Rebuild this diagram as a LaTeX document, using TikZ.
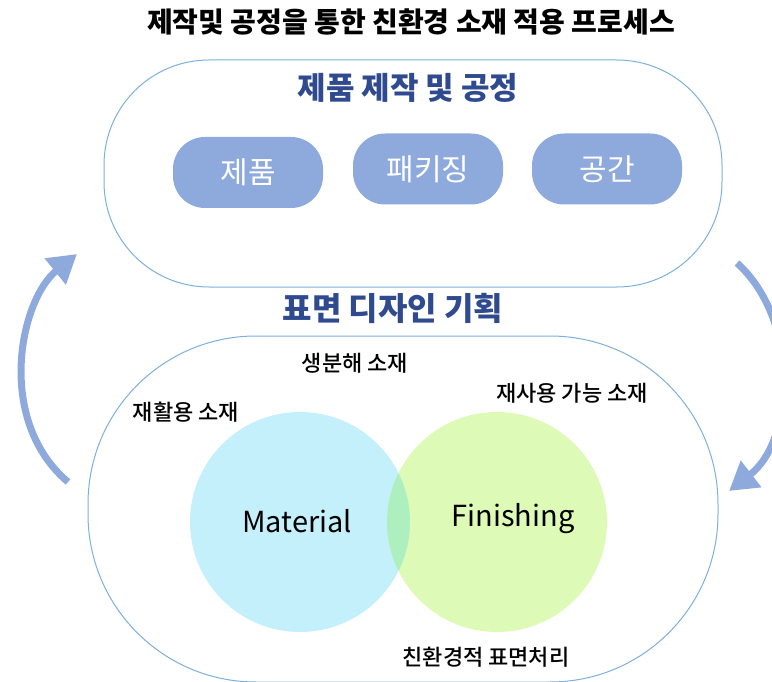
\documentclass[tikz,border=0pt]{standalone}
\usepackage{fontspec}
\setmainfont{Noto Sans CJK KR}
\newfontfamily\medfont{Noto Sans CJK KR Medium}
\usetikzlibrary{arrows.meta}
\definecolor{boxline}{HTML}{7DB0DC}
\definecolor{darkblue}{HTML}{2F4A8E}
\definecolor{pill}{HTML}{8EAADC}
\definecolor{cyanfill}{HTML}{C3F0FB}
\definecolor{greenfill}{HTML}{DDFAB6}
\definecolor{overlapfill}{HTML}{AEEFC0}
\tikzset{
  outerbox/.style={draw=boxline, line width=1pt, fill=none},
  pillbox/.style={fill=pill, rounded corners=32pt, minimum width=150pt, minimum height=71pt, text=white, font=\fontsize{30}{32}\selectfont},
  heading/.style={text=darkblue, font=\bfseries\fontsize{31}{33}\selectfont},
  lbl/.style={text=black, font=\medfont\fontsize{22}{24}\selectfont},
  bigarrow/.style={draw=pill, line width=7pt, -{Triangle[width=32pt,length=28pt]}},
  vennlbl/.style={text=black, font=\fontsize{29}{31}\selectfont}
}
\begin{document}
\begin{tikzpicture}[x=1pt,y=-1pt]
\useasboundingbox (0,0) rectangle (772,682);
% title
\node[font=\bfseries\fontsize{28}{30}\selectfont] (title) at (411,22) {제작및 공정을 통한 친환경 소재 적용 프로세스};
% top box
\node[outerbox, rounded corners=105pt, minimum width=618pt, minimum height=227pt] (top) at (413,173.5) {};
\node[heading] (toph) at (408,88) {제품 제작 및 공정};
\node[pillbox] (p1) at (248,172.5) {제품};
\node[pillbox] (p2) at (428,169) {패키징};
\node[pillbox] (p3) at (607,169) {공간};
% bottom
\node[heading, font=\bfseries\fontsize{32}{34}\selectfont] (both) at (393,308) {표면 디자인 기획};
\node[outerbox, rounded corners=168pt, minimum width=630pt, minimum height=346pt] (bot) at (403,509) {};
% venn
\node[circle, fill=cyanfill, minimum size=220pt, inner sep=0pt] (mat) at (300,522) {};
\node[circle, fill=greenfill, minimum size=220pt, inner sep=0pt] (fin) at (497,522) {};
\begin{scope}
  \clip (300,522) circle (110);
  \fill[overlapfill] (497,522) circle (110);
\end{scope}
\node[vennlbl] (matl) at (297,521) {Material};
\node[vennlbl] (finl) at (513,519) {Finishing};
% labels
\node[lbl] (l1) at (355,363) {생분해 소재};
\node[lbl] (l2) at (186,412) {재활용 소재};
\node[lbl] (l3) at (572,393) {재사용 가능 소재};
\node[lbl] (l4) at (486,657) {친환경적 표면처리};
% arrows
\coordinate (a1s) at (68,482);
\coordinate (a1e) at (77,254);
\coordinate (a2s) at (737,263);
\coordinate (a2e) at (729,491);
\draw[bigarrow] (a1s) .. controls (-5,420) and (20,300) .. (a1e);
\draw[bigarrow] (a2s) .. controls (800,320) and (795,440) .. (a2e);
\end{tikzpicture}
\end{document}
